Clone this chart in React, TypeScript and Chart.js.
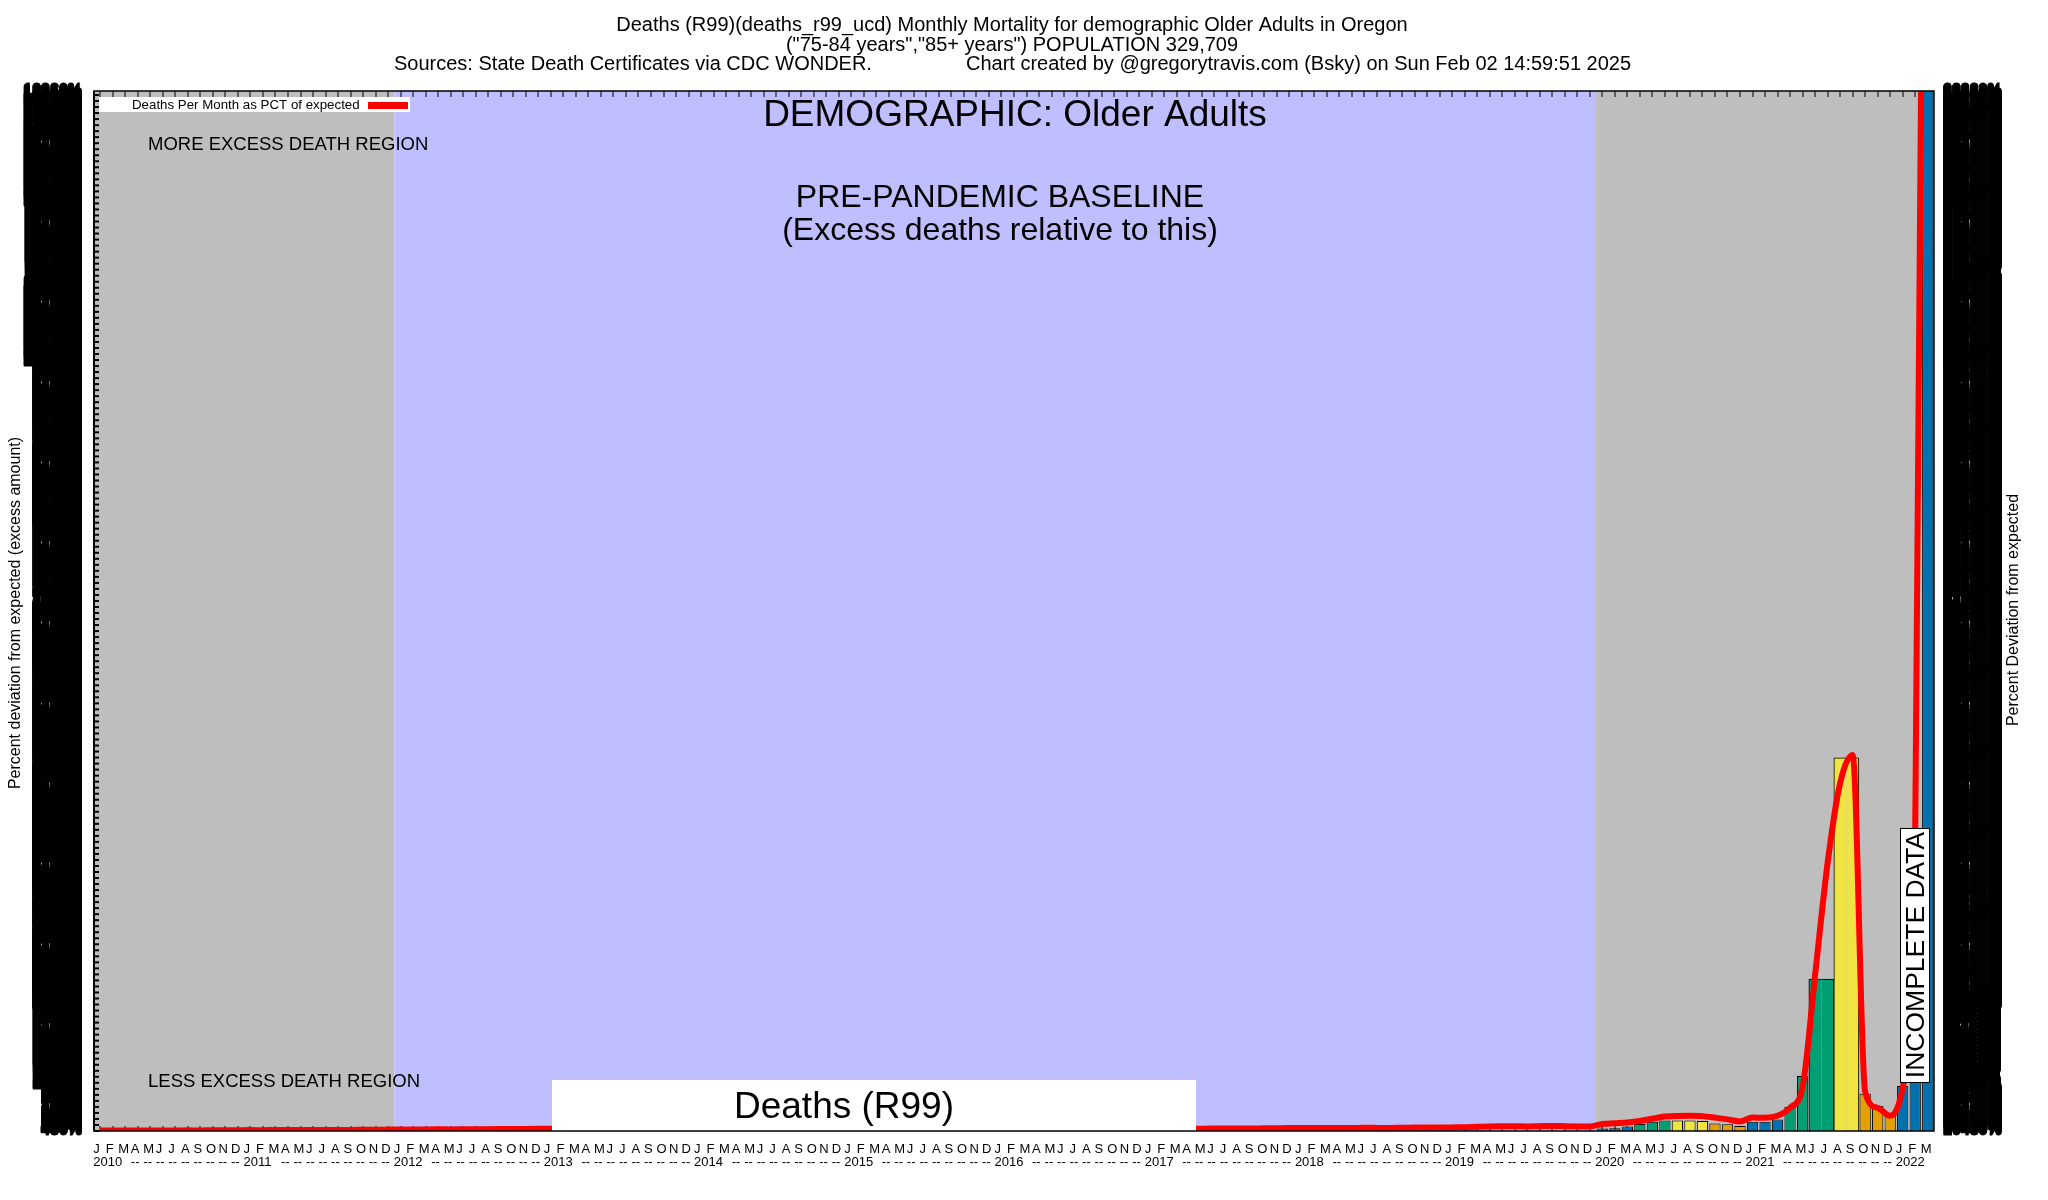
import React, { useEffect, useRef } from "react";
import { Chart, registerables } from "chart.js";

Chart.register(...registerables);

const FONT = '"Liberation Sans", Arial, Helvetica, sans-serif';

const TITLE_LINE_1 = "Deaths (R99)(deaths_r99_ucd) Monthly Mortality for demographic Older Adults in Oregon";
const TITLE_LINE_2 = '("75-84 years","85+ years") POPULATION 329,709';
const SOURCE_TEXT = "Sources: State Death Certificates via CDC WONDER.";
const CREDIT_TEXT = "Chart created by @gregorytravis.com (Bsky) on Sun Feb 02 14:59:51 2025";
const LEGEND_TEXT = "Deaths Per Month as PCT of expected";
const LEFT_AXIS_TITLE = "Percent deviation from expected (excess amount)";
const RIGHT_AXIS_TITLE = "Percent Deviation from expected";

const YEARS = [2010, 2011, 2012, 2013, 2014, 2015, 2016, 2017, 2018, 2019, 2020, 2021, 2022];
const MONTH_LETTERS = ["J", "F", "M", "A", "M", "J", "J", "A", "S", "O", "N", "D"];
const MONTHS_IN_LAST_YEAR = 3;

const categories: string[] = [];
YEARS.forEach((year, yi) => {
  const n = yi === YEARS.length - 1 ? MONTHS_IN_LAST_YEAR : 12;
  for (let m = 0; m < n; m++) categories.push(`${year}-${String(m + 1).padStart(2, "0")}`);
});

// Red line: deaths per month as percent of expected
const pct2010 = [12, 10, 14, 12, 15, 13, 14, 16, 15, 18, 17, 20];
const pct2011 = [22, 20, 24, 22, 25, 24, 26, 28, 27, 30, 32, 35];
const pct2012 = [38, 36, 40, 42, 40, 44, 45, 46, 48, 50, 52, 55];
const pct2013 = [58, 55, 57, 60, 58, 60, 62, 60, 58, 60, 62, 64];
const pct2014 = [62, 60, 58, 60, 62, 64, 62, 60, 62, 64, 62, 60];
const pct2015 = [62, 64, 62, 60, 62, 64, 66, 64, 62, 64, 66, 64];
const pct2016 = [62, 60, 62, 64, 62, 60, 62, 64, 66, 64, 62, 60];
const pct2017 = [58, 56, 58, 60, 58, 60, 62, 60, 64, 66, 70, 72];
const pct2018 = [75, 78, 76, 74, 76, 80, 78, 76, 80, 85, 88, 86];
const pct2019 = [90, 95, 105, 115, 120, 118, 115, 120, 125, 120, 115, 110];
const pct2020 = [175, 195, 215, 250, 305, 360, 378, 380, 372, 335, 290, 240];
const pct2021 = [335, 330, 380, 580, 1100, 3900, 6700, 8700, 9400, 980, 580, 380];
const pct2022 = [1080, 7500, 50000];

const pctOfExpected = [
  ...pct2010, ...pct2011, ...pct2012, ...pct2013, ...pct2014, ...pct2015, ...pct2016,
  ...pct2017, ...pct2018, ...pct2019, ...pct2020, ...pct2021, ...pct2022,
];

// Bars: excess deaths, pandemic period only
const excess2020 = [60, 70, 110, 175, 230, 260, 260, 260, 250, 190, 170, 125];
const excess2021 = [230, 230, 290, 600, 1375, null, null, null, null, 930, 625, 420];
const excess2022 = [1125, 7000, 50000];
// two-month bars (Jun-Jul 2021 green, Aug-Sep 2021 yellow)
const wide2021 = [null, null, null, null, null, 3800, 3800, 9330, 9330, null, null, null];

const PANDEMIC_START = categories.indexOf("2020-01");
const noBars = categories.slice(0, PANDEMIC_START).map(() => null);
const barData = [...noBars, ...excess2020, ...excess2021, ...excess2022];
const wideData = [...noBars, ...excess2020.map(() => null), ...wide2021, ...excess2022.map(() => null)];

const QUARTER_COLORS = ["#0072B2", "#009E73", "#F0E442", "#E69F00"];
const barColors = categories.map((c) => QUARTER_COLORS[Math.floor((Number(c.split("-")[1]) - 1) / 3)]);
const WIDE_COLORS: Record<string, string> = {
  "2021-06": "#009E73",
  "2021-07": "#009E73",
  "2021-08": "#F0E442",
  "2021-09": "#F0E442",
};
const wideColors = categories.map((c) => WIDE_COLORS[c] || "#000");

const GRAY = "#BEBEBE";
const LAVENDER = "#BFBFFF";
const REGIONS = [
  { from: "2010-01", to: "2012-01", color: GRAY },
  { from: "2012-01", to: "2020-01", color: LAVENDER },
  { from: "2020-01", to: null, color: GRAY },
];

const DATA_MAX = 26000;
const LEFT_AXIS_RANGE = [430, 13380];
const RIGHT_AXIS_RANGE = [10430, 23380];
const AXIS_LABEL_STEP = 12.5;
const AXIS_MARK_STEP = 75;

function axisTicks(range: number[]) {
  const out: { value: number }[] = [];
  for (let v = range[0]; v <= range[1]; v += AXIS_LABEL_STEP) out.push({ value: v });
  return out;
}

function xTickLabel(index: number): string[] {
  const [y, m] = categories[index].split("-");
  const mi = Number(m) - 1;
  return [MONTH_LETTERS[mi], mi === 0 ? y : mi < 3 ? "" : "--"];
}

const wideBorder = (ctx: any) => {
  const c = categories[ctx.dataIndex] || "";
  if (c === "2021-06" || c === "2021-08") return { top: 1, left: 1, right: 0, bottom: 0 };
  if (c === "2021-07" || c === "2021-09") return { top: 1, left: 0, right: 1, bottom: 0 };
  return 1;
};

const decorPlugin = {
  id: "decor",
  beforeDatasetsDraw(chart: any) {
    const { ctx, chartArea: a, scales } = chart;
    const x = scales.x;
    const yl = scales.yl;
    const slot = x.getPixelForValue(1) - x.getPixelForValue(0);
    const edge = (cat: string | null) =>
      cat === null ? x.getPixelForValue(categories.length - 1) + slot / 2 : x.getPixelForValue(categories.indexOf(cat)) - slot / 2;
    ctx.save();
    REGIONS.forEach((r) => {
      const x0 = edge(r.from);
      const x1 = edge(r.to);
      ctx.fillStyle = r.color;
      ctx.fillRect(x0, a.top, x1 - x0, a.bottom - a.top);
    });
    ctx.fillStyle = "#000";
    for (let i = 0; i < categories.length; i++) {
      const cx = x.getPixelForValue(i);
      ctx.fillRect(Math.round(cx) - 0.5, a.top, 1, 6);
      ctx.fillRect(Math.round(cx) - 0.5, a.bottom - 5, 1, 5);
    }
    for (let v = LEFT_AXIS_RANGE[0]; v <= LEFT_AXIS_RANGE[1]; v += AXIS_MARK_STEP) {
      const py = yl.getPixelForValue(v);
      ctx.fillRect(a.left, py - 1, 5, 2);
    }
    ctx.restore();
  },
  afterDatasetsDraw(chart: any) {
    const { ctx, chartArea: a } = chart;
    ctx.save();
    ctx.textBaseline = "middle";

    // legend
    ctx.fillStyle = "#fff";
    ctx.fillRect(99, 97, 311, 15);
    ctx.fillStyle = "#000";
    ctx.font = `13.3px ${FONT}`;
    ctx.textAlign = "left";
    ctx.fillText(LEGEND_TEXT, 132, 105);
    ctx.fillStyle = "#FF0000";
    ctx.fillRect(368, 102, 40, 7);

    ctx.fillStyle = "#000";
    ctx.font = `37px ${FONT}`;
    ctx.textAlign = "center";
    ctx.fillText("DEMOGRAPHIC: Older Adults", 1015, 116);

    ctx.font = `18.5px ${FONT}`;
    ctx.textAlign = "left";
    ctx.fillText("MORE EXCESS DEATH REGION", 148, 145);
    ctx.fillText("LESS EXCESS DEATH REGION", 148, 1082);

    ctx.font = `32px ${FONT}`;
    ctx.textAlign = "center";
    ctx.fillText("PRE-PANDEMIC BASELINE", 1000, 198);
    ctx.fillText("(Excess deaths relative to this)", 1000, 231);

    // Deaths (R99) box
    ctx.fillStyle = "#fff";
    ctx.fillRect(552, 1080, 644, a.bottom - 1080);
    ctx.fillStyle = "#000";
    ctx.font = `37px ${FONT}`;
    ctx.fillText("Deaths (R99)", 844, 1108);

    // INCOMPLETE DATA box
    ctx.fillStyle = "#fff";
    ctx.fillRect(1900, 828, 29, 254);
    ctx.strokeStyle = "#000";
    ctx.lineWidth = 1;
    ctx.strokeRect(1900.5, 828.5, 29, 254);
    ctx.save();
    ctx.translate(1915.5, 955);
    ctx.rotate(-Math.PI / 2);
    ctx.fillStyle = "#000";
    ctx.font = `26.5px ${FONT}`;
    ctx.textAlign = "center";
    ctx.fillText("INCOMPLETE DATA", 0, 1);
    ctx.restore();

    // frame
    ctx.strokeStyle = "#000";
    ctx.lineWidth = 1.5;
    ctx.strokeRect(a.left, a.top, a.right - a.left, a.bottom - a.top);
    ctx.fillStyle = "#000";
    ctx.fillRect(a.left - 1, a.top, 2, a.bottom - a.top);
    ctx.restore();
  },
  afterDraw(chart: any) {
    const { ctx } = chart;
    ctx.save();
    ctx.fillStyle = "#000";
    ctx.textBaseline = "middle";
    ctx.font = `20px ${FONT}`;
    ctx.textAlign = "center";
    ctx.fillText(TITLE_LINE_1, 1012, 25);
    ctx.fillText(TITLE_LINE_2, 1012, 45);
    ctx.textAlign = "left";
    ctx.fillText(SOURCE_TEXT, 394, 64);
    ctx.fillText(CREDIT_TEXT, 966, 64);

    ctx.font = `16px ${FONT}`;
    ctx.textAlign = "center";
    ctx.save();
    ctx.translate(16, 613);
    ctx.rotate(-Math.PI / 2);
    ctx.fillText(LEFT_AXIS_TITLE, 0, 0);
    ctx.restore();
    ctx.save();
    ctx.translate(2014, 610);
    ctx.rotate(-Math.PI / 2);
    ctx.fillText(RIGHT_AXIS_TITLE, 0, 0);
    ctx.restore();
    ctx.restore();
  },
};

export default function App() {
  const ref = useRef<HTMLCanvasElement>(null);
  useEffect(() => {
    document.body.style.margin = "0";
    const yTicks = (padding: number) => ({
      autoSkip: false,
      padding,
      color: "#000",
      textStrokeColor: "#000",
      textStrokeWidth: 1,
      font: { family: FONT, size: 16, weight: "bold" },
      callback: (v: any) => `${Math.round(Number(v))}%`,
    });
    const chart = new Chart(ref.current as HTMLCanvasElement, {
      data: {
        labels: categories,
        datasets: [
          {
            type: "line",
            data: pctOfExpected,
            yAxisID: "y",
            borderColor: "#FF0000",
            borderWidth: 6,
            pointRadius: 0,
            cubicInterpolationMode: "monotone",
            fill: false,
            order: 0,
            borderJoinStyle: "round",
          } as any,
          {
            type: "bar",
            data: barData,
            yAxisID: "y",
            backgroundColor: barColors,
            borderColor: "#000",
            borderWidth: 1,
            barPercentage: 0.9,
            categoryPercentage: 1,
            grouped: false,
            order: 2,
          } as any,
          {
            type: "bar",
            data: wideData,
            yAxisID: "y",
            backgroundColor: wideColors,
            borderColor: "#000",
            borderWidth: wideBorder,
            barPercentage: 1,
            categoryPercentage: 1,
            grouped: false,
            order: 1,
          } as any,
        ],
      },
      options: {
        responsive: false,
        animation: false,
        devicePixelRatio: 1,
        layout: { padding: { top: 91, left: 0, right: 0, bottom: 0 } },
        plugins: { legend: { display: false }, tooltip: { enabled: false }, title: { display: false } },
        scales: {
          x: {
            type: "category",
            offset: true,
            grid: { display: false, drawTicks: false },
            border: { display: false },
            ticks: {
              autoSkip: false,
              maxRotation: 0,
              minRotation: 0,
              align: "start",
              labelOffset: -7,
              padding: 12,
              color: "#000",
              font: { family: FONT, size: 13, lineHeight: 1 },
              callback: (_v: any, i: number) => xTickLabel(i),
            },
            afterFit: (s: any) => {
              s.height = 69;
              s.paddingLeft = 0;
              s.paddingRight = 0;
            },
          },
          y: { type: "linear", display: false, min: 0, max: DATA_MAX },
          yl: {
            type: "linear",
            position: "left",
            min: LEFT_AXIS_RANGE[0],
            max: LEFT_AXIS_RANGE[1],
            grid: { display: false, drawTicks: false },
            border: { display: false },
            ticks: yTicks(12),
            afterBuildTicks: (s: any) => {
              s.ticks = axisTicks(LEFT_AXIS_RANGE);
            },
            afterFit: (s: any) => {
              s.width = 94;
            },
          },
          yr: {
            type: "linear",
            position: "right",
            min: RIGHT_AXIS_RANGE[0],
            max: RIGHT_AXIS_RANGE[1],
            grid: { display: false, drawTicks: false },
            border: { display: false },
            ticks: yTicks(9),
            afterBuildTicks: (s: any) => {
              s.ticks = axisTicks(RIGHT_AXIS_RANGE);
            },
            afterFit: (s: any) => {
              s.width = 114;
            },
          },
        } as any,
      },
      plugins: [decorPlugin],
    } as any);
    return () => chart.destroy();
  }, []);
  return <canvas ref={ref} width={2048} height={1200} style={{ display: "block", width: 2048, height: 1200 }} />;
}
